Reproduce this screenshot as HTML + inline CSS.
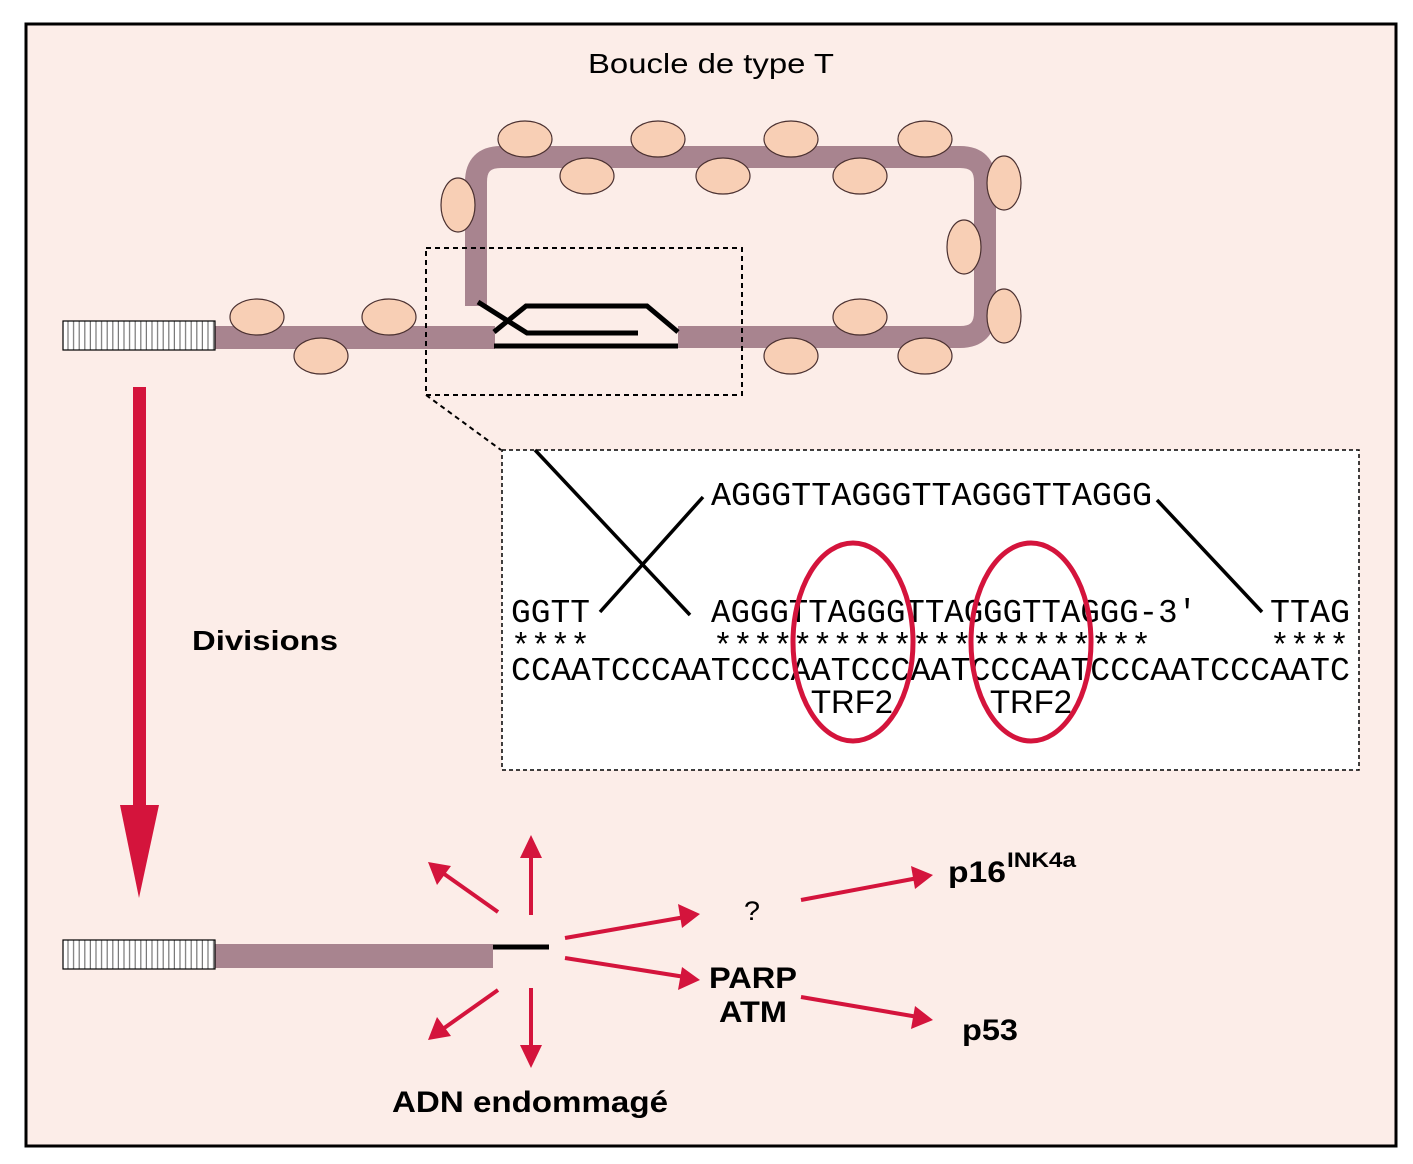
<!DOCTYPE html>
<html><head><meta charset="utf-8"><style>
html,body{margin:0;padding:0;background:#fff;}
svg{display:block;}
.mono{font-family:"Liberation Mono",monospace;font-size:33px;fill:#000;}
.sans{font-family:"Liberation Sans",sans-serif;fill:#000;}
</style></head><body>
<svg width="1413" height="1164" viewBox="0 0 1413 1164" xmlns="http://www.w3.org/2000/svg">
<defs>
<pattern id="st" width="5.6" height="40" patternUnits="userSpaceOnUse" x="63">
<rect width="5.6" height="40" fill="#fff"/>
<rect x="4.4" width="1.2" height="40" fill="#777"/>
</pattern>
</defs>
<rect x="0" y="0" width="1413" height="1164" fill="#fff"/>
<rect x="26" y="24" width="1370" height="1122" fill="#fcede8" stroke="#000" stroke-width="3"/>
<text class="sans" x="711" y="73" font-size="28" text-anchor="middle" textLength="246" lengthAdjust="spacingAndGlyphs">Boucle de type T</text>

<rect x="215" y="326" width="280" height="23" fill="#a8848f"/>
<path d="M678 337 H960 Q985 337 985 312 V182 Q985 157 960 157 H501 Q476 157 476 182 V306" fill="none" stroke="#a8848f" stroke-width="22"/>
<rect x="63" y="321" width="152" height="29" fill="url(#st)" stroke="#000" stroke-width="1.2"/>

<g stroke="#000" stroke-width="5" fill="none">
<polyline points="478,302 527,333 638,333"/>
<polyline points="494,332 526,306 647,306 678,332"/>
<line x1="494" y1="346" x2="678" y2="346"/>
</g>

<g fill="#f8cfb5" stroke="#4a3030" stroke-width="1.2">
<ellipse cx="257" cy="317" rx="27" ry="18"/>
<ellipse cx="321" cy="356" rx="27" ry="18"/>
<ellipse cx="389" cy="317" rx="27" ry="18"/>
<ellipse cx="525" cy="139" rx="27" ry="18"/>
<ellipse cx="587" cy="176" rx="27" ry="18"/>
<ellipse cx="658" cy="139" rx="27" ry="18"/>
<ellipse cx="723" cy="176" rx="27" ry="18"/>
<ellipse cx="791" cy="139" rx="27" ry="18"/>
<ellipse cx="860" cy="176" rx="27" ry="18"/>
<ellipse cx="925" cy="139" rx="27" ry="18"/>
<ellipse cx="458" cy="205" rx="17" ry="27"/>
<ellipse cx="1004" cy="183" rx="17" ry="27"/>
<ellipse cx="964" cy="247" rx="17" ry="27"/>
<ellipse cx="1004" cy="316" rx="17" ry="27"/>
<ellipse cx="860" cy="317" rx="27" ry="18"/>
<ellipse cx="791" cy="356" rx="27" ry="18"/>
<ellipse cx="925" cy="356" rx="27" ry="18"/>
</g>

<g fill="none" stroke="#000" stroke-width="2" stroke-dasharray="5,4">
<rect x="426" y="248" width="316" height="147"/>
<line x1="426" y1="395" x2="501" y2="450"/>
</g>
<rect x="502" y="450" width="857" height="320" fill="#fff" stroke="#000" stroke-width="1.5" stroke-dasharray="4,3"/>

<g stroke="#000" stroke-width="3.5">
<line x1="535" y1="450" x2="690" y2="615"/>
<line x1="600" y1="612" x2="703" y2="497"/>
<line x1="1157" y1="500" x2="1262" y2="612"/>
</g>
<text class="mono" x="711" y="505" textLength="441" lengthAdjust="spacingAndGlyphs">AGGGTTAGGGTTAGGGTTAGGG</text>
<text class="mono" x="511" y="622" textLength="79" lengthAdjust="spacingAndGlyphs">GGTT</text>
<text class="mono" x="711" y="622" textLength="486" lengthAdjust="spacingAndGlyphs">AGGGTTAGGGTTAGGGTTAGGG-3'</text>
<text class="mono" x="1270" y="622" textLength="80" lengthAdjust="spacingAndGlyphs">TTAG</text>
<text class="mono" x="511" y="656" textLength="79" lengthAdjust="spacingAndGlyphs">****</text>
<text class="mono" x="713" y="656" textLength="438" lengthAdjust="spacingAndGlyphs">**********************</text>
<text class="mono" x="1270" y="656" textLength="79" lengthAdjust="spacingAndGlyphs">****</text>
<text class="mono" x="511" y="680" textLength="839" lengthAdjust="spacingAndGlyphs">CCAATCCCAATCCCAATCCCAATCCCAATCCCAATCCCAATC</text>
<text class="sans" x="811" y="713" font-size="32" textLength="82" lengthAdjust="spacingAndGlyphs">TRF2</text>
<text class="sans" x="990" y="713" font-size="32" textLength="82" lengthAdjust="spacingAndGlyphs">TRF2</text>
<g fill="none" stroke="#d4143c" stroke-width="5">
<ellipse cx="853" cy="642" rx="60" ry="99"/>
<ellipse cx="1031" cy="642" rx="60" ry="99"/>
</g>

<rect x="133" y="387" width="13" height="420" fill="#d4143c"/>
<polygon points="120,805 159,805 139,898" fill="#d4143c"/>
<text class="sans" x="192" y="650" font-size="28" font-weight="bold" textLength="146" lengthAdjust="spacingAndGlyphs">Divisions</text>

<rect x="215" y="944" width="278" height="24" fill="#a8848f"/>
<rect x="63" y="940" width="152" height="29" fill="url(#st)" stroke="#000" stroke-width="1.2"/>
<line x1="493" y1="947" x2="549" y2="947" stroke="#000" stroke-width="5"/>

<g stroke="#d4143c" stroke-width="4">
<line x1="531" y1="915" x2="531" y2="850"/>
<line x1="498" y1="912" x2="440" y2="871"/>
<line x1="498" y1="990" x2="440" y2="1031"/>
<line x1="531" y1="988" x2="531" y2="1053"/>
<line x1="565" y1="938" x2="685" y2="917"/>
<line x1="565" y1="958" x2="685" y2="977"/>
<line x1="801" y1="900" x2="918" y2="878"/>
<line x1="801" y1="997" x2="918" y2="1017"/>
</g>
<g fill="#d4143c">
<polygon points="531,835 520,858 542,858"/>
<polygon points="428,862 437,885 451,866"/>
<polygon points="428,1040 451,1036 437,1017"/>
<polygon points="531,1068 520,1045 542,1045"/>
<polygon points="700,914 678,904 682,928"/>
<polygon points="700,980 682,967 678,990"/>
<polygon points="933,875 911,866 915,889"/>
<polygon points="933,1020 915,1006 911,1029"/>
</g>

<text class="sans" x="744" y="920" font-size="27" textLength="16" lengthAdjust="spacingAndGlyphs">?</text>
<text class="sans" x="753" y="988" font-size="30" font-weight="bold" text-anchor="middle" textLength="88" lengthAdjust="spacingAndGlyphs">PARP</text>
<text class="sans" x="753" y="1022" font-size="30" font-weight="bold" text-anchor="middle" textLength="68" lengthAdjust="spacingAndGlyphs">ATM</text>
<text class="sans" x="948" y="882" font-size="30" font-weight="bold" textLength="58" lengthAdjust="spacingAndGlyphs">p16</text>
<text class="sans" x="1007" y="867" font-size="21" font-weight="bold" textLength="69" lengthAdjust="spacingAndGlyphs">INK4a</text>
<text class="sans" x="962" y="1040" font-size="30" font-weight="bold" textLength="56" lengthAdjust="spacingAndGlyphs">p53</text>
<text class="sans" x="530" y="1112" font-size="30" font-weight="bold" text-anchor="middle" textLength="276" lengthAdjust="spacingAndGlyphs">ADN endommagé</text>
</svg>
</body></html>
